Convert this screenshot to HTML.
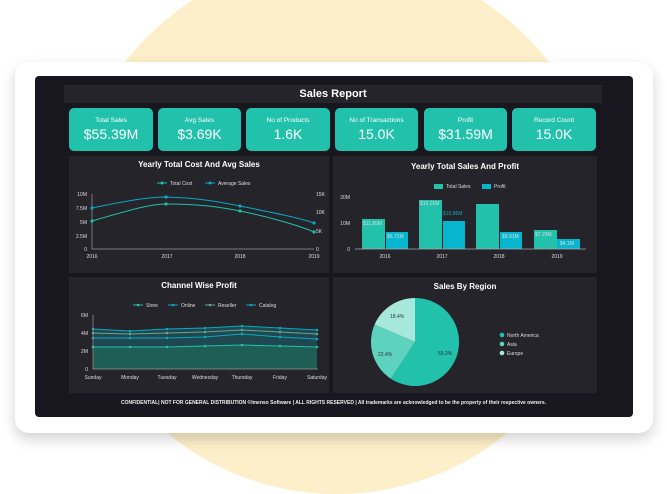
<!DOCTYPE html>
<html><head><style>
body{margin:0;width:667px;height:494px;overflow:hidden;background:#fff;font-family:"Liberation Sans",sans-serif;position:relative}
.circ{position:absolute;left:69px;top:-42px;width:536px;height:536px;border-radius:50%;background:#fdefc9}
.card{position:absolute;left:15px;top:62px;width:638px;height:371px;background:#fff;border-radius:14px;box-shadow:0 6px 14px rgba(0,0,0,.18)}
.dark{position:absolute;left:35px;top:76px;width:598px;height:341px;background:#18171f;border-radius:4px}
.tb{position:absolute;left:64px;top:85px;width:538px;height:18px;background:#25242b;color:#fff;font-weight:bold;font-size:11px;text-align:center;line-height:18px}
.k{position:absolute;top:108px;height:43px;background:#21c1ab;border-radius:5px;color:#fff;text-align:center}
.k .l{font-size:6.5px;margin-top:9px}
.k .v{font-size:14px;margin-top:2px}
.p{position:absolute;background:#25242a}
svg{position:absolute;left:0;top:0}
.ft{position:absolute;left:0;width:667px;top:400px;text-align:center;color:#eee;font-size:5px;font-weight:bold}
</style></head><body>
<div class="circ"></div>
<div class="card"></div>
<div class="dark"></div>
<div class="tb">Sales Report</div>
<div class="k" style="left:69px;width:84px"><div class="l">Total Sales</div><div class="v">$55.39M</div></div>
<div class="k" style="left:158px;width:83px"><div class="l">Avg Sales</div><div class="v">$3.69K</div></div>
<div class="k" style="left:246px;width:84px"><div class="l">No of Products</div><div class="v">1.6K</div></div>
<div class="k" style="left:335px;width:83px"><div class="l">No of Transactions</div><div class="v">15.0K</div></div>
<div class="k" style="left:424px;width:83px"><div class="l">Profit</div><div class="v">$31.59M</div></div>
<div class="k" style="left:512px;width:84px"><div class="l">Record Count</div><div class="v">15.0K</div></div>
<div class="p" style="left:69px;top:156px;width:260px;height:117px"></div>
<div class="p" style="left:333px;top:156px;width:264px;height:117px"></div>
<div class="p" style="left:69px;top:277px;width:260px;height:116px"></div>
<div class="p" style="left:333px;top:277px;width:264px;height:116px"></div>
<svg width="667" height="494" font-family="Liberation Sans" fill="#fff">
<g font-size="8" font-weight="bold" text-anchor="middle">
<text x="199" y="167">Yearly Total Cost And Avg Sales</text>
<text x="465" y="169">Yearly Total Sales And Profit</text>
<text x="199" y="288">Channel Wise Profit</text>
<text x="465" y="289">Sales By Region</text>
</g>
<g font-size="5" fill="#ddd">
<line x1="157" y1="183" x2="167" y2="183" stroke="#21c1ab"/><circle cx="162" cy="183" r="1.5" fill="#21c1ab"/><text x="170" y="185">Total Cost</text>
<line x1="205" y1="183" x2="215" y2="183" stroke="#0aa8c0"/><circle cx="210" cy="183" r="1.5" fill="#0aa8c0"/><text x="218" y="185">Average Sales</text>
<g text-anchor="end"><text x="87" y="196">10M</text><text x="87" y="210">7.5M</text><text x="87" y="224">5M</text><text x="87" y="238">2.5M</text><text x="87" y="251">0</text></g>
<text x="316" y="196">15K</text><text x="316" y="214">10K</text><text x="316" y="233">5K</text><text x="316" y="251">0</text>
<g text-anchor="middle"><text x="92" y="258">2016</text><text x="167" y="258">2017</text><text x="240" y="258">2018</text><text x="314" y="258">2019</text></g>
<path d="M92 194V249H314" stroke="#999" fill="none" stroke-width=".7"/>
<path d="M92 221C130 210,150 204,166 204C200 204,220 207,240 211C270 217,300 226,314 232" stroke="#21c1ab" fill="none"/>
<path d="M92 208C130 200,150 197,166 197C200 198,220 202,240 206C270 212,300 218,314 223" stroke="#0aa8c0" fill="none"/>
<g fill="#21c1ab"><circle cx="92" cy="221" r="1.6"/><circle cx="166" cy="204" r="1.6"/><circle cx="240" cy="211" r="1.6"/><circle cx="314" cy="232" r="1.6"/></g>
<g fill="#0aa8c0"><circle cx="92" cy="208" r="1.6"/><circle cx="166" cy="197" r="1.6"/><circle cx="240" cy="206" r="1.6"/><circle cx="314" cy="223" r="1.6"/></g>
<rect x="434" y="184" width="9" height="5" fill="#21c1ab"/><text x="446" y="188">Total Sales</text>
<rect x="482" y="184" width="9" height="5" fill="#06b6cf"/><text x="494" y="188">Profit</text>
<g text-anchor="end"><text x="350" y="199">20M</text><text x="350" y="225">10M</text><text x="350" y="251">0</text></g>
<g fill="#21c1ab"><rect x="362" y="219" width="23" height="30"/><rect x="419" y="200" width="23" height="49"/><rect x="476" y="204" width="23" height="45"/><rect x="534" y="230" width="23" height="19"/></g>
<g fill="#06b6cf"><rect x="386" y="232" width="22" height="17"/><rect x="443" y="221" width="22" height="28"/><rect x="500" y="232" width="22" height="17"/><rect x="557" y="239" width="23" height="10"/></g>
<line x1="355" y1="249" x2="586" y2="249" stroke="#aaa" stroke-width=".7"/>
<text x="363" y="225">$11.85M</text><text x="387" y="238">$6.72M</text><text x="420" y="205">$19.01M</text><text x="443" y="215" fill="#0aa8c0">$10.86M</text><text x="502" y="238">$9.91M</text><text x="535" y="236">$7.29M</text><text x="560" y="245">$4.1M</text>
<g text-anchor="middle"><text x="385" y="258">2016</text><text x="442" y="258">2017</text><text x="499" y="258">2018</text><text x="557" y="258">2019</text></g>
<g font-size="5">
<line x1="133" y1="305" x2="143" y2="305" stroke="#21c1ab"/><circle cx="138" cy="305" r="1.3" fill="#21c1ab"/><text x="146" y="307">Store</text>
<line x1="168" y1="305" x2="178" y2="305" stroke="#0aa8c0"/><circle cx="173" cy="305" r="1.3" fill="#0aa8c0"/><text x="181" y="307">Online</text>
<line x1="205" y1="305" x2="215" y2="305" stroke="#6aa58f"/><circle cx="210" cy="305" r="1.3" fill="#6aa58f"/><text x="218" y="307">Reseller</text>
<line x1="246" y1="305" x2="256" y2="305" stroke="#0aa8c0"/><circle cx="251" cy="305" r="1.3" fill="#0aa8c0"/><text x="259" y="307">Catalog</text>
</g>
<g text-anchor="end"><text x="88" y="317">6M</text><text x="88" y="335">4M</text><text x="88" y="353">2M</text><text x="88" y="371">0</text></g>
<path d="M93 329L130 331L167 329L205 328L242 326L280 328L317 330V369H93Z" fill="#1f4d55" opacity=".9"/>
<path d="M93 347L130 347L167 347L205 346L242 345L280 346L317 347V369H93Z" fill="#1e5e55"/>
<path d="M93 329L130 331L167 329L205 328L242 326L280 328L317 330" stroke="#0aa8c0" fill="none"/>
<path d="M93 333L130 334L167 333L205 332L242 330L280 332L317 334" stroke="#6aa58f" fill="none"/>
<path d="M93 338L130 338L167 338L205 337L242 334L280 337L317 339" stroke="#0aa8c0" fill="none"/>
<path d="M93 347L130 347L167 347L205 346L242 345L280 346L317 347" stroke="#21c1ab" fill="none"/>
<g fill="#0aa8c0"><circle cx="93" cy="329" r="1.3"/><circle cx="130" cy="331" r="1.3"/><circle cx="167" cy="329" r="1.3"/><circle cx="205" cy="328" r="1.3"/><circle cx="242" cy="326" r="1.3"/><circle cx="280" cy="328" r="1.3"/><circle cx="317" cy="330" r="1.3"/>
<circle cx="93" cy="338" r="1.3"/><circle cx="130" cy="338" r="1.3"/><circle cx="167" cy="338" r="1.3"/><circle cx="205" cy="337" r="1.3"/><circle cx="242" cy="334" r="1.3"/><circle cx="280" cy="337" r="1.3"/><circle cx="317" cy="339" r="1.3"/></g>
<g fill="#6aa58f"><circle cx="93" cy="333" r="1.3"/><circle cx="130" cy="334" r="1.3"/><circle cx="167" cy="333" r="1.3"/><circle cx="205" cy="332" r="1.3"/><circle cx="242" cy="330" r="1.3"/><circle cx="280" cy="332" r="1.3"/><circle cx="317" cy="334" r="1.3"/></g>
<g fill="#21c1ab"><circle cx="93" cy="347" r="1.3"/><circle cx="130" cy="347" r="1.3"/><circle cx="167" cy="347" r="1.3"/><circle cx="205" cy="346" r="1.3"/><circle cx="242" cy="345" r="1.3"/><circle cx="280" cy="346" r="1.3"/><circle cx="317" cy="347" r="1.3"/></g>
<path d="M93 315V369H318" stroke="#999" fill="none" stroke-width=".7"/>
<g text-anchor="middle"><text x="93" y="379">Sunday</text><text x="130" y="379">Monday</text><text x="167" y="379">Tuesday</text><text x="205" y="379">Wednesday</text><text x="242" y="379">Thursday</text><text x="280" y="379">Friday</text><text x="317" y="379">Saturday</text></g>
<path d="M415 342L415 298A44 44 0 1 1 390.8 378.7Z" fill="#21c1ab"/>
<path d="M415 342L390.8 378.7A44 44 0 0 1 374.6 324.5Z" fill="#5dd3bf"/>
<path d="M415 342L374.6 324.5A44 44 0 0 1 415 298Z" fill="#a7e8dd"/>
<g fill="#333"><text x="438" y="355">59.2%</text><text x="378" y="356">22.4%</text><text x="390" y="318">18.4%</text></g>
<circle cx="502" cy="335" r="2.3" fill="#21c1ab"/><text x="507" y="337">North America</text>
<circle cx="502" cy="344" r="2.3" fill="#5dd3bf"/><text x="507" y="346">Asia</text>
<circle cx="502" cy="353" r="2.3" fill="#a7e8dd"/><text x="507" y="355">Europe</text>
</g>
</svg>
<div class="ft">CONFIDENTIAL| NOT FOR GENERAL DISTRIBUTION ©Imenso Software | ALL RIGHTS RESERVED | All trademarks are acknowledged to be the property of their respective owners.</div>
</body></html>
